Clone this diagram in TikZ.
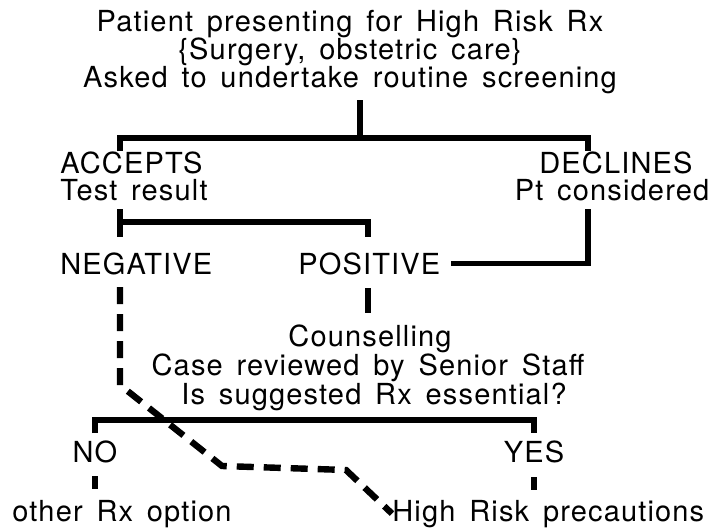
\documentclass[tikz,border=0pt]{standalone}
\usepackage{fontspec}
\setmainfont{TeX Gyre Heros}[LetterSpace=4, WordSpace=1.5]
\usetikzlibrary{positioning}
\tikzset{
  lab/.style={font=\fontsize{14.5}{16}\selectfont, inner sep=0pt},
  link/.style={line width=2.6pt},
  dashlink/.style={line width=3.2pt, dash pattern=on 8.5pt off 5pt}
}

\begin{document}
\begin{tikzpicture}[x=0.5pt, y=-0.5pt]
\useasboundingbox (0,0) rectangle (714,531);
% header
\node[lab, anchor=base] (t1) at (350,31) {Patient presenting for High Risk Rx};
\node[lab, anchor=base] (t2) at (350,59) {\{Surgery, obstetric care\}};
\node[lab, anchor=base] (t3) at (350,87) {Asked to undertake routine screening};
% first split
\node[lab, anchor=base west] (acc) at (60,173) {ACCEPTS};
\node[lab, anchor=base west] (res) at (60,200) {Test result};
\node[lab, anchor=base] (dec) at (616,173) {DECLINES};
\node[lab, anchor=base] (cons) at (612,200) {Pt considered};
\coordinate (s1) at (360,100);
\coordinate (b1) at (360,138);
\draw[link] (s1) -- (b1);
\draw[link] (120,151) |- (b1) -| (588,151);
% test result
\node[lab, anchor=base west] (neg) at (60,274) {NEGATIVE};
\node[lab, anchor=base west] (pos) at (298,274) {POSITIVE};
\coordinate (r1) at (120,209);
\coordinate (b2) at (120,222);
\draw[link] (r1) -- (120,237);
\draw[link] (b2) -| (368,237);
\coordinate (d1) at (588,209);
\draw[link] (d1) |- ([xshift=5pt]pos.east);
% review
\node[lab, anchor=base] (coun) at (370,346) {Counselling};
\node[lab, anchor=base] (rev) at (368,375) {Case reviewed by Senior Staff};
\node[lab, anchor=base] (ess) at (374,404) {Is suggested Rx essential?};
\draw[link] (368,288) -- (368,313);
% decision
\node[lab, anchor=base] (no) at (95,462) {NO};
\node[lab, anchor=base] (yes) at (534,462) {YES};
\draw[link] (95,433) |- (95,420) -| (534,433);
\draw[link] (95,476) -- (95,489);
\draw[link] (534,477) -- (534,490);
\node[lab, anchor=base west] (oth) at (12,521) {other Rx option};
\node[lab, anchor=base west] (hrp) at (392,521) {High Risk precautions};
% negative route
\draw[dashlink] (120,287) -- (120,385) -- (222,466) -- (346,470) -- (hrp.west);
\end{tikzpicture}
\end{document}
